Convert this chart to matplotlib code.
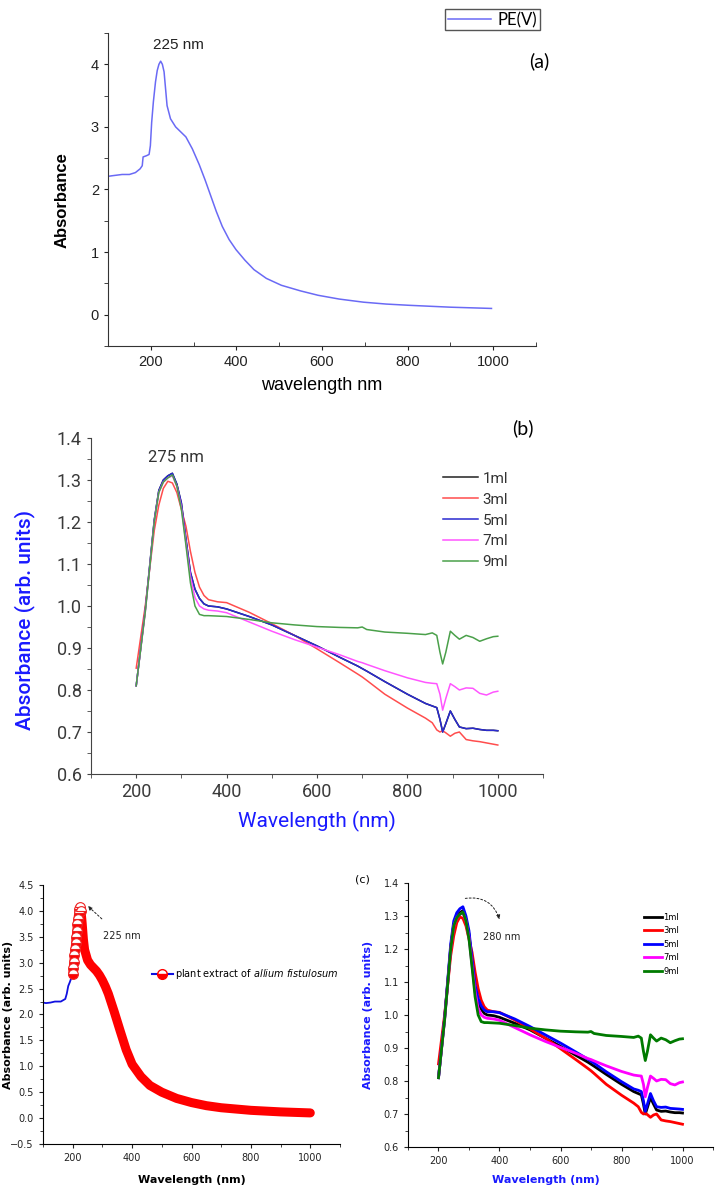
import matplotlib.pyplot as plt
from matplotlib.lines import Line2D
from matplotlib.ticker import MultipleLocator

# ---------------- data ----------------
# panel (a): PE(V) spectrum
wl_a = [100, 110, 133, 150, 164, 175, 180, 182, 190, 196, 199, 202, 206, 211, 215, 219, 223, 227, 231, 238,
        246, 258, 270, 282, 297, 313, 327, 340, 353, 367, 383, 399, 420, 441, 470, 505, 550, 591, 640, 697,
        750, 804, 900, 996]
abs_a = [2.21, 2.22, 2.24, 2.24, 2.27, 2.33, 2.38, 2.52, 2.54, 2.56, 2.70, 3.07, 3.4, 3.72, 3.9, 4.0, 4.05, 4.0, 3.88, 3.34,
         3.13, 3.0, 2.92, 2.84, 2.65, 2.40, 2.15, 1.9, 1.65, 1.41, 1.2, 1.04, 0.87, 0.72, 0.58, 0.47, 0.38, 0.31, 0.25, 0.2,
         0.17, 0.15, 0.12, 0.1]

# panels (b) and (c, right): volume series
wl_b = [200, 220, 240, 250, 260, 270, 280, 290, 300, 310, 320, 330, 340, 350, 360, 380, 400, 450, 500, 550,
        600, 650, 690, 700, 710, 750, 800, 840, 855, 865, 872, 878, 885, 895, 905, 915, 930, 945, 960, 975,
        990, 1000]
ml1 = [0.81, 0.99, 1.205, 1.275, 1.30, 1.31, 1.316, 1.29, 1.245, 1.16, 1.08, 1.04, 1.018, 1.005, 1.0, 0.998, 0.993, 0.975, 0.955, 0.93,
       0.905, 0.878, 0.857, 0.851, 0.845, 0.82, 0.79, 0.768, 0.762, 0.758, 0.73, 0.70, 0.72, 0.75, 0.73, 0.712, 0.708, 0.709, 0.706, 0.704,
       0.704, 0.703]
ml3 = [0.852, 1.0, 1.18, 1.24, 1.28, 1.297, 1.293, 1.27, 1.23, 1.19, 1.13, 1.08, 1.045, 1.025, 1.015, 1.01, 1.008, 0.985, 0.958, 0.93,
       0.898, 0.865, 0.838, 0.831, 0.823, 0.79, 0.757, 0.733, 0.722, 0.705, 0.70, 0.703, 0.698, 0.69, 0.697, 0.70, 0.682, 0.679, 0.677, 0.674,
       0.671, 0.669]
ml5_b = [0.81, 0.99, 1.205, 1.275, 1.30, 1.31, 1.316, 1.29, 1.245, 1.16, 1.08, 1.04, 1.018, 1.005, 1.0, 0.998, 0.993, 0.975, 0.955, 0.93,
         0.905, 0.878, 0.857, 0.851, 0.845, 0.82, 0.79, 0.768, 0.762, 0.758, 0.73, 0.70, 0.72, 0.75, 0.73, 0.712, 0.708, 0.709, 0.706, 0.704,
         0.704, 0.703]
ml5_c = [0.81, 0.99, 1.215, 1.285, 1.31, 1.322, 1.328, 1.30, 1.255, 1.17, 1.09, 1.05, 1.028, 1.015, 1.01, 1.01, 1.007, 0.988, 0.965, 0.94,
         0.915, 0.888, 0.866, 0.86, 0.854, 0.828, 0.798, 0.776, 0.772, 0.768, 0.74, 0.708, 0.73, 0.762, 0.74, 0.722, 0.72, 0.721, 0.717, 0.716,
         0.715, 0.714]
ml7 = [0.81, 0.985, 1.2, 1.27, 1.295, 1.305, 1.31, 1.285, 1.235, 1.15, 1.07, 1.02, 1.0, 0.993, 0.99, 0.988, 0.984, 0.962, 0.94, 0.92,
       0.902, 0.884, 0.868, 0.865, 0.861, 0.846, 0.829, 0.818, 0.816, 0.815, 0.79, 0.752, 0.78, 0.815, 0.808, 0.80, 0.805, 0.804, 0.792, 0.788,
       0.795, 0.797]
ml9 = [0.81, 0.985, 1.2, 1.27, 1.295, 1.305, 1.312, 1.285, 1.23, 1.145, 1.055, 1.0, 0.98, 0.977, 0.977, 0.976, 0.975, 0.968, 0.96, 0.955,
       0.951, 0.949, 0.948, 0.95, 0.944, 0.938, 0.935, 0.932, 0.936, 0.93, 0.89, 0.862, 0.89, 0.94, 0.93, 0.921, 0.93, 0.925, 0.916, 0.922,
       0.927, 0.928]

# panel (c, left): plant extract
wl_c_blue = [100, 110, 125, 140, 160, 175, 180, 185, 190, 195, 200]
abs_c_blue = [2.23, 2.22, 2.23, 2.25, 2.25, 2.3, 2.4, 2.55, 2.62, 2.7, 2.78]
wl_c_red = [200, 202, 204, 206, 208, 210, 212, 214, 216, 218, 220, 222, 225, 228, 232, 236, 240, 250, 260, 270,
            280, 290, 300, 310, 320, 340, 360, 380, 400, 430, 460, 500, 550, 600, 650, 700, 800, 900, 1000]
abs_c_red = [2.78, 2.9, 3.02, 3.14, 3.26, 3.38, 3.5, 3.62, 3.74, 3.85, 3.95, 4.03, 4.07, 4.0, 3.75, 3.45, 3.25, 3.05, 2.96, 2.9,
             2.84, 2.76, 2.66, 2.54, 2.4, 2.05, 1.68, 1.32, 1.04, 0.8, 0.63, 0.5, 0.38, 0.3, 0.24, 0.2, 0.15, 0.12, 0.1]

labels_ml = ['1ml', '3ml', '5ml', '7ml', '9ml']

# ---------------- figure ----------------
W, H = 715, 1196
fig = plt.figure(figsize=(W / 100, H / 100), dpi=100)


def box(l, t, r, b):
    return [l / W, 1 - b / H, (r - l) / W, (b - t) / H]


def ftext(x, y, s, **kw):
    fig.text(x / W, 1 - y / H, s, **kw)


arial = ['Liberation Sans', 'DejaVu Sans']
calib = ['Lato', 'DejaVu Sans']
robo = ['Roboto', 'DejaVu Sans']

##################### panel (a) #####################
ax = fig.add_axes(box(108, 33, 536, 346))
ax.plot(wl_a, abs_a, color='#6a6af5', lw=1.1, label='PE(V)')
ax.set_xlim(100, 1100)
ax.set_ylim(-0.5, 4.5)
ax.spines[['top', 'right']].set_visible(False)
ax.spines[['left', 'bottom']].set_color('#333333')
ax.xaxis.set_major_locator(MultipleLocator(200))
ax.xaxis.set_minor_locator(MultipleLocator(100))
ax.yaxis.set_major_locator(MultipleLocator(1))
ax.yaxis.set_minor_locator(MultipleLocator(0.5))
ax.tick_params(axis='both', which='both', labelsize=10.5, colors='#222222', length=3)
ax.tick_params(axis='x', which='minor', direction='in')
for lab in ax.get_xticklabels() + ax.get_yticklabels():
    lab.set_family(arial)
ax.legend(loc='upper right', bbox_to_anchor=(548 / W, 1 - 1 / H), bbox_transform=fig.transFigure,
          fancybox=False, edgecolor='#555555', framealpha=1, handlelength=2.6, borderpad=0.15,
          handletextpad=0.4, prop={'family': calib, 'size': 12})
ftext(62, 200, 'Absorbance', rotation=90, ha='center', va='center', fontsize=12, fontweight='bold', family=arial)
ftext(322, 386, 'wavelength nm', ha='center', va='center', fontsize=13, family=arial)
ftext(539, 61, '(a)', ha='center', va='center', fontsize=14, family=calib)
ftext(178, 45, '225 nm', ha='center', va='center', fontsize=11, family=arial, color='#222222')

##################### panel (b) #####################
ax = fig.add_axes(box(91, 438, 543, 774))
cols_b = ['#222222', '#ff4d4d', '#2a2ad0', '#ff55ff', '#4aa04a']
for y, c, lab in zip([ml1, ml3, ml5_b, ml7, ml9], cols_b, labels_ml):
    ax.plot(wl_b, y, color=c, lw=1.1, label=lab)
ax.set_xlim(100, 1100)
ax.set_ylim(0.6, 1.4)
ax.spines[['top', 'right']].set_visible(False)
ax.spines[['left', 'bottom']].set_color('#444444')
ax.xaxis.set_major_locator(MultipleLocator(200))
ax.xaxis.set_minor_locator(MultipleLocator(100))
ax.yaxis.set_major_locator(MultipleLocator(0.1))
ax.yaxis.set_minor_locator(MultipleLocator(0.05))
ax.tick_params(axis='both', which='both', labelsize=13, labelcolor='#3a3a3a', color='#444444', length=3)
for lab in ax.get_xticklabels() + ax.get_yticklabels():
    lab.set_family(robo)
leg = ax.legend(loc='upper left', bbox_to_anchor=(429 / W, 1 - 458 / H), bbox_transform=fig.transFigure,
                frameon=False, handlelength=2.3, labelspacing=0.45, handletextpad=0.3,
                prop={'family': robo, 'size': 11})
for t in leg.get_texts():
    t.set_color('#333333')
ftext(25, 620, 'Absorbance (arb. units)', rotation=90, ha='center', va='center', fontsize=15,
      color='#1a1aff', family=robo, fontweight='medium')
ftext(317, 821, 'Wavelength (nm)', ha='center', va='center', fontsize=15, color='#1a1aff', family=robo)
ftext(523, 428, '(b)', ha='center', va='center', fontsize=14, family=calib)
ftext(176, 457, '275 nm', ha='center', va='center', fontsize=12, family=robo, color='#333333')

##################### panel (c) left #####################
ax = fig.add_axes(box(43, 885, 340, 1144))
ax.plot(wl_c_blue, abs_c_blue, color='#1010e0', lw=1.3)
ax.plot(wl_c_red, abs_c_red, color='#ff0000', lw=6.5, solid_capstyle='round')
ax.plot(wl_c_red[:14], abs_c_red[:14], 'o', ms=7, color='#ff0000', fillstyle='bottom',
        markerfacecoloralt='white', mec='#ee2222', mew=0.8)
ax.set_xlim(100, 1100)
ax.set_ylim(-0.5, 4.5)
ax.spines[['top', 'right']].set_visible(False)
ax.xaxis.set_major_locator(MultipleLocator(200))
ax.xaxis.set_minor_locator(MultipleLocator(100))
ax.yaxis.set_major_locator(MultipleLocator(0.5))
ax.yaxis.set_minor_locator(MultipleLocator(0.25))
ax.yaxis.set_major_formatter('{x:.1f}')
ax.tick_params(axis='both', which='both', labelsize=7, colors='#222222', length=3)
ax.tick_params(which='minor', length=2)
proxy = Line2D([], [], color='#1010e0', lw=1.5, marker='o', ms=7, mfc='#ff0000', fillstyle='bottom',
               markerfacecoloralt='white', mec='#ff0000')
ax.legend([proxy], ['plant extract of $\\it{allium\\ fistulosum}$'], loc='center left',
          bbox_to_anchor=(143 / W, 1 - 974 / H), bbox_transform=fig.transFigure, frameon=False,
          handlelength=2.2, handletextpad=0.2, fontsize=7)
ax.annotate('', xy=(244, 4.13), xytext=(305, 3.81),
            arrowprops=dict(arrowstyle='-|>', ls=(0, (2, 2)), color='#222222', lw=0.7, mutation_scale=6))
ax.text(301, 3.52, '225 nm', fontsize=7, ha='left', va='center', color='#222222')
ftext(8, 1015, 'Absorbance (arb. units)', rotation=90, ha='center', va='center', fontsize=8, fontweight='bold')
ftext(192, 1180, 'Wavelength (nm)', ha='center', va='center', fontsize=8, fontweight='bold')

##################### panel (c) right #####################
ax = fig.add_axes(box(408, 883, 713, 1147))
cols_c = ['#000000', '#ff0000', '#0000ff', '#ff00ff', '#007a00']
for y, c, lab in zip([ml1, ml3, ml5_c, ml7, ml9], cols_c, labels_ml):
    ax.plot(wl_b, y, color=c, lw=2, label=lab)
ax.set_xlim(100, 1100)
ax.set_ylim(0.6, 1.4)
ax.spines[['top', 'right']].set_visible(False)
ax.xaxis.set_major_locator(MultipleLocator(200))
ax.xaxis.set_minor_locator(MultipleLocator(100))
ax.yaxis.set_major_locator(MultipleLocator(0.1))
ax.yaxis.set_minor_locator(MultipleLocator(0.05))
ax.tick_params(axis='both', which='both', labelsize=7, colors='#222222', length=3)
ax.tick_params(which='minor', length=2)
ax.legend(loc='upper left', bbox_to_anchor=(636 / W, 1 - 905 / H), bbox_transform=fig.transFigure,
          frameon=False, handlelength=2.2, labelspacing=0.55, handletextpad=0.2, fontsize=6)
ax.annotate('', xy=(403, 1.282), xytext=(279, 1.352),
            arrowprops=dict(arrowstyle='-|>', ls=(0, (2, 2)), color='#222222', lw=0.7, mutation_scale=6,
                            connectionstyle='arc3,rad=-0.45'))
ax.text(347, 1.236, '280 nm', fontsize=7, ha='left', va='center', color='#222222')
ftext(368, 1015, 'Absorbance (arb. units)', rotation=90, ha='center', va='center', fontsize=8,
      fontweight='bold', color='#1a1aff')
ftext(546, 1180, 'Wavelength (nm)', ha='center', va='center', fontsize=8, fontweight='bold', color='#1a1aff')
ftext(362, 880, '(c)', ha='center', va='center', fontsize=8)

fig.savefig('out.png', dpi=100)
